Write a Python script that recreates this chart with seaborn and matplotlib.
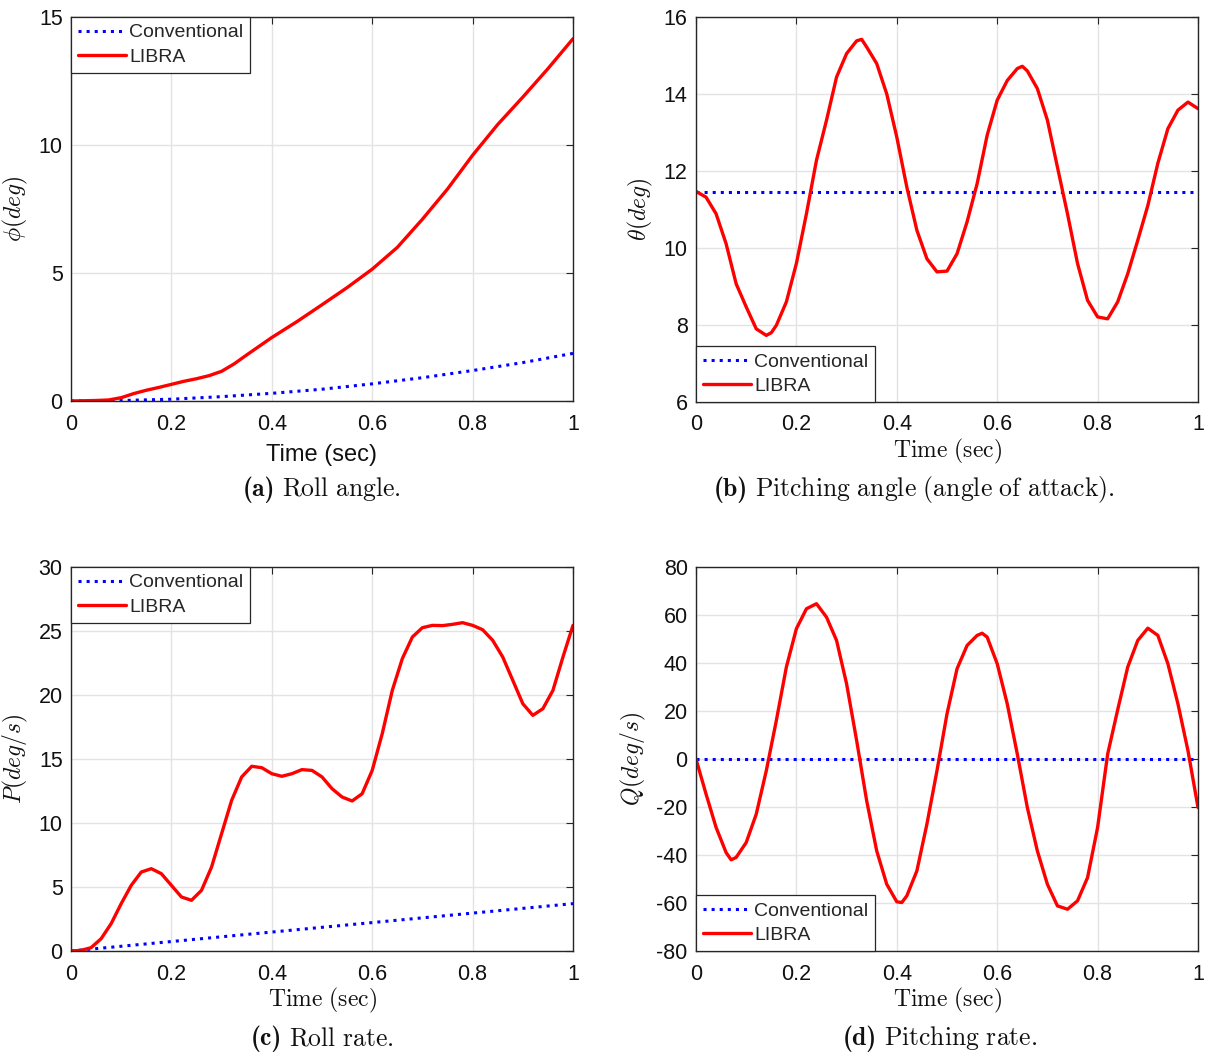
import os
import numpy as np
import pandas as pd
import matplotlib
matplotlib.use("Agg")
import matplotlib.pyplot as plt
from matplotlib.font_manager import FontProperties
import seaborn as sns

# ---------------- data ----------------
t_phi = [0, 0.05, 0.075, 0.1, 0.125, 0.15, 0.175, 0.2, 0.225, 0.25, 0.275, 0.3, 0.325, 0.35,
         0.4, 0.45, 0.5, 0.55, 0.6, 0.65, 0.7, 0.75, 0.8, 0.85, 0.9, 0.95, 1.0]
phi_libra = [0, 0.02, 0.04, 0.13, 0.29, 0.42, 0.53, 0.65, 0.77, 0.87, 0.99, 1.16, 1.45, 1.8,
             2.48, 3.1, 3.76, 4.43, 5.15, 6.0, 7.1, 8.28, 9.6, 10.8, 11.87, 12.98, 14.15]
t_conv = [0, 0.1, 0.2, 0.3, 0.4, 0.5, 0.6, 0.7, 0.8, 0.9, 1.0]
phi_conv = [0, 0.02, 0.07, 0.17, 0.3, 0.46, 0.67, 0.91, 1.19, 1.5, 1.86]

t_theta = [0, 0.02, 0.04, 0.06, 0.08, 0.1, 0.12, 0.14, 0.15, 0.16, 0.18, 0.2, 0.22, 0.24,
           0.26, 0.28, 0.3, 0.32, 0.33, 0.34, 0.36, 0.38, 0.4, 0.42, 0.44, 0.46, 0.48, 0.5,
           0.52, 0.54, 0.56, 0.58, 0.6, 0.62, 0.64, 0.65, 0.66, 0.68, 0.7, 0.72, 0.74, 0.76,
           0.78, 0.8, 0.82, 0.84, 0.86, 0.88, 0.9, 0.92, 0.94, 0.96, 0.98, 1.0]
theta_libra = [11.47, 11.32, 10.89, 10.11, 9.07, 8.47, 7.9, 7.73, 7.8, 7.99, 8.6, 9.6, 10.89,
               12.28, 13.32, 14.44, 15.05, 15.38, 15.42, 15.22, 14.79, 14.0, 12.88, 11.58,
               10.46, 9.72, 9.38, 9.4, 9.85, 10.68, 11.67, 12.93, 13.84, 14.35, 14.66, 14.72,
               14.6, 14.14, 13.32, 12.1, 10.89, 9.6, 8.64, 8.21, 8.16, 8.6, 9.33, 10.2,
               11.1, 12.2, 13.1, 13.58, 13.79, 13.62]
theta_conv = [11.45] * len(t_conv)

t_rate = [0, 0.02, 0.04, 0.06, 0.08, 0.1, 0.12, 0.14, 0.16, 0.18, 0.2, 0.22, 0.24, 0.26,
          0.28, 0.3, 0.32, 0.34, 0.36, 0.38, 0.4, 0.42, 0.44, 0.46, 0.48, 0.5, 0.52, 0.54,
          0.56, 0.58, 0.6, 0.62, 0.64, 0.66, 0.68, 0.7, 0.72, 0.74, 0.76, 0.78, 0.8, 0.82,
          0.84, 0.86, 0.88, 0.9, 0.92, 0.94, 0.96, 0.98, 1.0]
p_libra = [0, 0.05, 0.26, 0.96, 2.14, 3.7, 5.13, 6.17, 6.43, 6.04, 5.13, 4.22, 3.96, 4.74,
           6.56, 9.17, 11.77, 13.6, 14.43, 14.32, 13.85, 13.65, 13.85, 14.17, 14.11, 13.6,
           12.68, 12.03, 11.72, 12.29, 14.11, 16.98, 20.36, 22.84, 24.53, 25.26, 25.44,
           25.42, 25.52, 25.65, 25.44, 25.1, 24.27, 22.97, 21.15, 19.32, 18.41, 18.93,
           20.36, 22.97, 25.44]
p_conv = [0, 0.37, 0.74, 1.11, 1.48, 1.85, 2.22, 2.59, 2.96, 3.33, 3.7]

t_q = [0, 0.02, 0.04, 0.06, 0.07, 0.08, 0.1, 0.12, 0.14, 0.16, 0.18, 0.2, 0.22, 0.24, 0.26,
       0.28, 0.3, 0.32, 0.34, 0.36, 0.38, 0.4, 0.41, 0.42, 0.44, 0.46, 0.48, 0.5, 0.52, 0.54,
       0.56, 0.57, 0.58, 0.6, 0.62, 0.64, 0.66, 0.68, 0.7, 0.72, 0.74, 0.76, 0.78, 0.8, 0.82,
       0.84, 0.86, 0.88, 0.9, 0.92, 0.94, 0.96, 0.98, 1.0]
q_libra = [0, -14.6, -28.5, -39, -42, -41, -34.8, -23, -4.9, 16, 38.3, 54.3, 62.6, 64.7, 59.1,
           49.4, 31.3, 7.7, -17.4, -38.3, -52.2, -59.5, -59.8, -57, -46.6, -27.1, -4.9, 18.8,
           37.6, 47.3, 51.5, 52.4, 50.8, 39.7, 23, 2.1, -20.2, -38.3, -52.2, -61.2, -62.6,
           -59.1, -49.4, -28.5, 2, 20.5, 38.3, 49.4, 54.5, 51.5, 39.7, 23, 3.5, -20.2]
q_conv = [0] * len(t_conv)

x_ticks = [0, 0.2, 0.4, 0.6, 0.8, 1]
x_ticklabels = ["0", "0.2", "0.4", "0.6", "0.8", "1"]

panels = [
    dict(conv=phi_conv, lt=t_phi, libra=phi_libra, ylim=(0, 15), yticks=[0, 5, 10, 15],
         ylabel=r"$\phi(deg)$", xlabel_sans=True, loc="upper left",
         cap_b="(a)", cap_r=r"$\mathrm{Roll\ angle.}$"),
    dict(conv=theta_conv, lt=t_theta, libra=theta_libra, ylim=(6, 16),
         yticks=[6, 8, 10, 12, 14, 16], ylabel=r"$\theta(deg)$", xlabel_sans=False,
         loc="lower left",
         cap_b="(b)", cap_r=r"$\mathrm{Pitching\ angle\ (angle\ of\ attack).}$"),
    dict(conv=p_conv, lt=t_rate, libra=p_libra, ylim=(0, 30),
         yticks=[0, 5, 10, 15, 20, 25, 30], ylabel=r"$P(deg/s)$", xlabel_sans=False,
         loc="upper left", cap_b="(c)", cap_r=r"$\mathrm{Roll\ rate.}$"),
    dict(conv=q_conv, lt=t_q, libra=q_libra, ylim=(-80, 80),
         yticks=[-80, -60, -40, -20, 0, 20, 40, 60, 80], ylabel=r"$Q(deg/s)$",
         xlabel_sans=False, loc="lower left",
         cap_b="(d)", cap_r=r"$\mathrm{Pitching\ rate.}$"),
]

# ---------------- style ----------------
sns.set_theme(style="whitegrid")
plt.rcParams["font.family"] = ["Liberation Sans", "DejaVu Sans"]
plt.rcParams["mathtext.fontset"] = "cm"
plt.rcParams["axes.unicode_minus"] = False

bold_fp = FontProperties(fname=os.path.join(matplotlib.get_data_path(), "fonts", "ttf", "cmb10.ttf"),
                         size=18.5)

W, H = 1208, 1053
fig = plt.figure(figsize=(W / 100, H / 100), dpi=100)
fig.patch.set_facecolor("white")

rects_px = [(71, 17, 573, 401), (696, 17, 1198, 402), (71, 567, 573, 951), (696, 567, 1198, 951)]
caption_px = [(322, 489), (914, 489), (322, 1038), (940, 1038)]

captions = []
for p, (x0, y0, x1, y1), (cx, cy) in zip(panels, rects_px, caption_px):
    ax = fig.add_axes([x0 / W, 1 - y1 / H, (x1 - x0) / W, (y1 - y0) / H])
    df_c = pd.DataFrame({"t": t_conv, "v": p["conv"]})
    df_l = pd.DataFrame({"t": p["lt"], "v": p["libra"]})
    sns.lineplot(data=df_c, x="t", y="v", ax=ax, color="#0000ff", linestyle=":",
                 linewidth=2.2, label="Conventional")
    sns.lineplot(data=df_l, x="t", y="v", ax=ax, color="#ff0000", linestyle="-",
                 linewidth=2.4, label="LIBRA")
    ax.set_xlim(0, 1)
    ax.set_ylim(*p["ylim"])
    ax.set_xticks(x_ticks)
    ax.set_xticklabels(x_ticklabels)
    ax.set_yticks(p["yticks"])
    ax.set_facecolor("white")
    ax.grid(True, color="#e3e3e3", linewidth=1.0)
    for s in ax.spines.values():
        s.set_visible(True)
        s.set_color("#262626")
        s.set_linewidth(1.0)
    ax.tick_params(axis="both", which="both", direction="in", length=5, width=0.8,
                   color="#262626", labelsize=15.5, labelcolor="#111111",
                   top=True, right=True)
    ax.tick_params(axis="x", pad=9)
    ax.tick_params(axis="y", pad=6)
    if p["xlabel_sans"]:
        ax.set_xlabel("Time (sec)", fontsize=17, color="#111111", labelpad=7)
    else:
        ax.set_xlabel(r"$\mathrm{Time\ (sec)}$", fontsize=17, color="#111111", labelpad=1)
    ax.set_ylabel(p["ylabel"], fontsize=17, color="#111111", labelpad=6)
    leg = ax.legend(loc=p["loc"], borderaxespad=0, fontsize=14, frameon=True,
                    fancybox=False, handlelength=2.5, handletextpad=0.15,
                    borderpad=0.35, labelspacing=0.35)
    leg.get_frame().set_edgecolor("#262626")
    leg.get_frame().set_linewidth(0.9)
    leg.get_frame().set_alpha(1)
    tb = fig.text(0, 1 - cy / H, p["cap_b"], ha="left", va="baseline",
                  fontproperties=bold_fp, color="#111111")
    tr = fig.text(0, 1 - cy / H, p["cap_r"], ha="left", va="baseline", fontsize=18.5,
                  color="#111111")
    captions.append((tb, tr, cx, cy))

fig.canvas.draw()
renderer = fig.canvas.get_renderer()
gap = 7
for tb, tr, cx, cy in captions:
    wb = tb.get_window_extent(renderer).width
    wr = tr.get_window_extent(renderer).width
    total = wb + gap + wr
    left = cx - total / 2
    base = 1 - (cy + 7) / H
    tb.set_position((left / W, base))
    tr.set_position(((left + wb + gap) / W, base))

fig.savefig("out.png", dpi=100, facecolor="white")
